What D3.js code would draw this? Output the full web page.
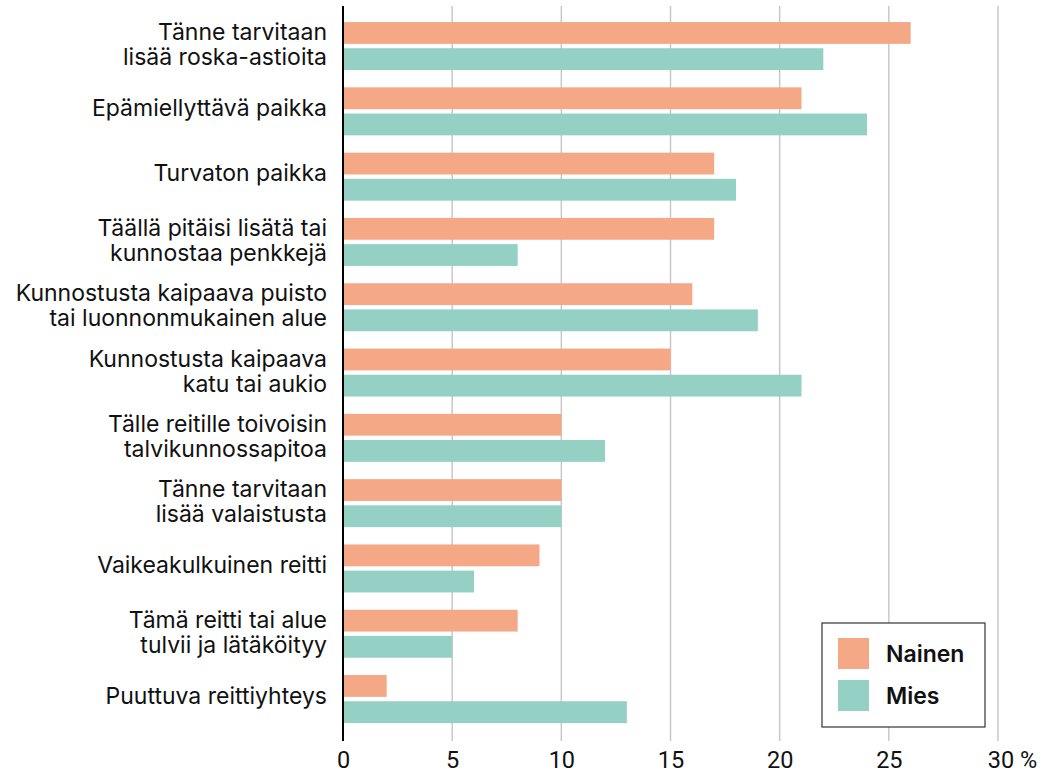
<!doctype html>
<html>
<head>
<meta charset="utf-8"/>
<script src="https://cdnjs.cloudflare.com/ajax/libs/d3/7.8.5/d3.min.js"></script>
<style>
  body { margin: 0; background: #fff; }
  svg { display: block; }
  .lbl { font-family: Inter, "Noto Sans", sans-serif; font-size: 23px; fill: #111; }
  .tick text { font-family: "Liberation Sans Narrow", "Roboto", sans-serif; font-size: 23.5px; fill: #111; }
</style>
</head>
<body>
<svg width="1045" height="774"></svg>
<script>
// categories (rows, top to bottom), lines split for label
var categories = [
  ["Tänne tarvitaan", "lisää roska-astioita"],
  ["Epämiellyttävä paikka"],
  ["Turvaton paikka"],
  ["Täällä pitäisi lisätä tai", "kunnostaa penkkejä"],
  ["Kunnostusta kaipaava puisto", "tai luonnonmukainen alue"],
  ["Kunnostusta kaipaava", "katu tai aukio"],
  ["Tälle reitille toivoisin", "talvikunnossapitoa"],
  ["Tänne tarvitaan", "lisää valaistusta"],
  ["Vaikeakulkuinen reitti"],
  ["Tämä reitti tai alue", "tulvii ja lätäköityy"],
  ["Puuttuva reittiyhteys"]
];
var seriesNames = ["Nainen", "Mies"];
var nainen = [26, 21, 17, 17, 16, 15, 10, 10, 9, 8, 2];
var mies   = [22, 24, 18, 8, 19, 21, 12, 10, 6, 5, 13];
var tickValues = [0, 5, 10, 15, 20, 25, 30];
var colors = {Nainen: "#f5a886", Mies: "#94d0c4"};

var svg = d3.select("svg");
var keys = categories.map(function(c){ return c.join(" "); });

var x = d3.scaleLinear().domain([0, 30]).range([343, 998]);
var y = d3.scaleBand().domain(keys).range([13.4, 731.7]).paddingInner(0.265).paddingOuter(0.1325);
var ySub = d3.scaleBand().domain(seriesNames).range([0, y.bandwidth()]).paddingInner(0.167);

// gridlines
svg.append("g").selectAll("line").data(tickValues.slice(1)).enter()
  .append("line")
  .attr("x1", function(d){ return x(d); }).attr("x2", function(d){ return x(d); })
  .attr("y1", 6).attr("y2", 741)
  .attr("stroke", "#c8c8c8").attr("stroke-width", 1.5);

// bars
var rows = keys.map(function(k, i){ return {key: k, vals: [{s: "Nainen", v: nainen[i]}, {s: "Mies", v: mies[i]}]}; });
var g = svg.append("g").selectAll("g").data(rows).enter()
  .append("g").attr("transform", function(d){ return "translate(0," + y(d.key) + ")"; });
g.selectAll("rect").data(function(d){ return d.vals; }).enter()
  .append("rect")
  .attr("x", x(0))
  .attr("y", function(d){ return ySub(d.s); })
  .attr("width", function(d){ return x(d.v) - x(0); })
  .attr("height", ySub.bandwidth())
  .attr("fill", function(d){ return colors[d.s]; });

// category labels
var lg = svg.append("g").selectAll("text").data(categories).enter()
  .append("text").attr("class", "lbl")
  .attr("text-anchor", "end")
  .attr("x", 327)
  .attr("y", function(d, i){ return y(keys[i]) + y.bandwidth() / 2; });
lg.selectAll("tspan").data(function(d){ return d; }).enter()
  .append("tspan")
  .attr("x", 327)
  .attr("dy", function(d, i, n){
    if (n.length === 1) return "4.5px";
    return i === 0 ? "-6px" : "25px";
  })
  .text(function(d){ return d; });

// x axis
var xAxis = d3.axisBottom(x).tickValues(tickValues).tickSize(0).tickPadding(8)
  .tickFormat(function(d){ return d === 30 ? "30 %" : d; });
var ax = svg.append("g").attr("transform", "translate(0,741)").call(xAxis);
ax.select(".domain").remove();
ax.selectAll(".tick text").attr("dy", "0.71em").attr("y", 10);
ax.selectAll(".tick").filter(function(d){ return d === 30; }).select("text").attr("dx", "14px");

// y axis line
svg.append("line").attr("x1", x(0)).attr("x2", x(0)).attr("y1", 6).attr("y2", 741)
  .attr("stroke", "#000").attr("stroke-width", 2);

// legend
var leg = svg.append("g").attr("transform", "translate(822,623)");
leg.append("rect").attr("width", 163).attr("height", 104)
  .attr("fill", "#fff").attr("stroke", "#333").attr("stroke-width", 1.2);
var li = leg.selectAll("g").data(seriesNames).enter()
  .append("g").attr("transform", function(d, i){ return "translate(16," + (15 + i * 42) + ")"; });
li.append("rect").attr("width", 31).attr("height", 31).attr("fill", function(d){ return colors[d]; });
li.append("text").attr("x", 48).attr("y", 16).attr("dy", "0.35em")
  .style("font-family", "Inter, 'Noto Sans', sans-serif").style("font-size", "23px").style("font-weight", 600)
  .attr("fill", "#111").text(function(d){ return d; });
</script>
</body>
</html>
